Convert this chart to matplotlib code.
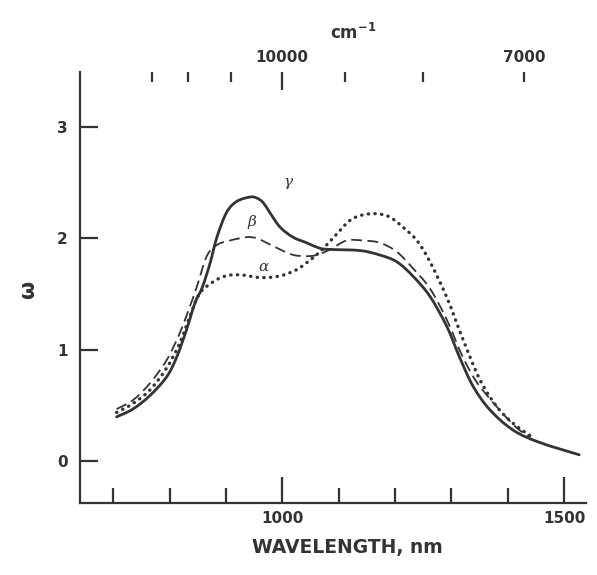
import matplotlib
matplotlib.use("Agg")
import matplotlib.pyplot as plt
from matplotlib.path import Path
from matplotlib.patches import PathPatch
import numpy as np

# gamma (solid)
wl_gamma = [706, 735, 765, 795, 813, 830, 845, 858, 872, 884, 901, 919, 943, 955, 966,
            978, 996, 1019, 1043, 1067, 1085, 1138, 1173, 1203, 1232, 1262, 1292, 1315,
            1339, 1369, 1410, 1457, 1527]
om_gamma = [0.40, 0.47, 0.59, 0.76, 0.94, 1.18, 1.42, 1.56, 1.78, 2.01, 2.23, 2.33, 2.37,
            2.36, 2.32, 2.23, 2.10, 2.01, 1.96, 1.91, 1.90, 1.89, 1.85, 1.79, 1.66, 1.48,
            1.21, 0.93, 0.67, 0.46, 0.28, 0.17, 0.06]

# beta (dashed)
wl_beta = [706, 735, 765, 795, 818, 836, 848, 866, 884, 907, 937, 955, 972, 996, 1020,
           1043, 1061, 1085, 1114, 1143, 1173, 1203, 1232, 1262, 1292, 1321, 1351, 1410, 1440]
om_beta = [0.47, 0.55, 0.70, 0.91, 1.15, 1.39, 1.56, 1.84, 1.94, 1.98, 2.01, 2.00, 1.96,
           1.90, 1.85, 1.84, 1.85, 1.90, 1.98, 1.98, 1.96, 1.88, 1.73, 1.55, 1.27, 0.93,
           0.67, 0.33, 0.22]

# alpha (dotted)
wl_alpha = [706, 735, 765, 795, 818, 836, 854, 884, 907, 931, 955, 978, 1002, 1026, 1043,
            1058, 1073, 1097, 1120, 1143, 1168, 1191, 1214, 1239, 1262, 1292, 1321, 1351,
            1381, 1410, 1443]
om_alpha = [0.44, 0.52, 0.64, 0.84, 1.06, 1.30, 1.51, 1.63, 1.67, 1.67, 1.65, 1.65, 1.67,
            1.72, 1.78, 1.84, 1.91, 2.04, 2.16, 2.21, 2.22, 2.19, 2.10, 1.98, 1.79, 1.47,
            1.09, 0.73, 0.49, 0.34, 0.22]

x_major = [1000, 1500]
x_minor = [700, 800, 900, 1100, 1200, 1300, 1400]
y_ticks = [0, 1, 2, 3]
wn_major = [10000, 7000]
wn_minor = [13000, 12000, 11000, 9000, 8000]

col = "#333333"


def smooth_curve(ax, xs, ys, **kw):
    """Draw a smooth curve through the read points with cubic Bezier segments."""
    P = np.column_stack([xs, ys]).astype(float)
    n = len(P)
    verts = [P[0]]
    codes = [Path.MOVETO]
    for i in range(n - 1):
        p0 = P[i - 1] if i > 0 else P[i]
        p3 = P[i + 2] if i + 2 < n else P[i + 1]
        c1 = P[i] + (P[i + 1] - p0) / 6.0
        c2 = P[i + 1] - (p3 - P[i]) / 6.0
        verts += [c1, c2, P[i + 1]]
        codes += [Path.CURVE4] * 3
    patch = PathPatch(Path(verts, codes), facecolor="none", edgecolor=col, **kw)
    ax.add_patch(patch)


fig = plt.figure(figsize=(5.97, 5.75), dpi=100)
ax = fig.add_axes([80/597, 1-503/575, (586-80)/597, (503-72)/575])
ax.set_xlim(641, 1539)
ax.set_ylim(-0.372, 3.49)

smooth_curve(ax, wl_gamma, om_gamma, lw=2.0, capstyle="round", joinstyle="round")
smooth_curve(ax, wl_beta, om_beta, lw=1.3, linestyle=(0, (6, 3)))
smooth_curve(ax, wl_alpha, om_alpha, lw=2.4, linestyle=(0, (0.1, 1.9)), capstyle="round")

for s in ["top", "right"]:
    ax.spines[s].set_visible(False)
for s in ["left", "bottom"]:
    ax.spines[s].set_linewidth(1.6)
    ax.spines[s].set_color(col)

ax.set_xticks(x_major)
ax.set_xticks(x_minor, minor=True)
ax.set_xticklabels([str(v) for v in x_major], fontweight="bold", fontsize=11, color=col)
ax.tick_params(axis="x", which="major", direction="in", length=19, width=1.6, pad=6, colors=col)
ax.tick_params(axis="x", which="minor", direction="in", length=11, width=1.6, colors=col)
ax.set_yticks(y_ticks)
ax.set_yticklabels([str(v) for v in y_ticks], fontweight="bold", fontsize=11, color=col)
ax.tick_params(axis="y", direction="in", length=13, width=1.6, pad=9, colors=col)

sec = ax.secondary_xaxis("top", functions=(lambda w: 1e7 / np.maximum(w, 1e-9),
                                           lambda k: 1e7 / np.maximum(k, 1e-9)))
sec.spines["top"].set_visible(False)
sec.set_xticks(wn_major)
sec.set_xticks(wn_minor, minor=True)
sec.set_xticklabels([str(v) for v in wn_major], fontweight="bold", fontsize=11, color=col)
sec.tick_params(axis="x", which="major", direction="in", length=13, width=1.6, pad=5, colors=col)
sec.tick_params(axis="x", which="minor", direction="in", length=7, width=1.6, colors=col)
# the 7000 tick is short in the original
fig.canvas.draw()
for t in sec.xaxis.get_major_ticks():
    if abs(t.get_loc() - 7000) < 1:
        t.tick1line.set_markersize(7)
        t.tick2line.set_markersize(7)

fig.text(353/597, 1-33/575, r"$\mathbf{cm^{-1}}$", ha="center", va="center",
         fontsize=12, color=col)
fig.text(347/597, 1-548/575, "WAVELENGTH, nm", ha="center", va="center",
         fontsize=13.5, fontweight="heavy", color=col)
fig.text(28/597, 1-290/575, "ω", ha="center", va="center", rotation=90,
         fontsize=15, fontweight="bold", color=col)

ax.text(1010, 2.50, "γ", fontsize=11, style="italic", family="DejaVu Serif",
        ha="center", va="center", color=col)
ax.text(946, 2.15, "β", fontsize=11, style="italic", family="DejaVu Serif",
        ha="center", va="center", color=col)
ax.text(966, 1.74, "α", fontsize=11, style="italic", family="DejaVu Serif",
        ha="center", va="center", color=col)

fig.savefig("out.png", dpi=100)
